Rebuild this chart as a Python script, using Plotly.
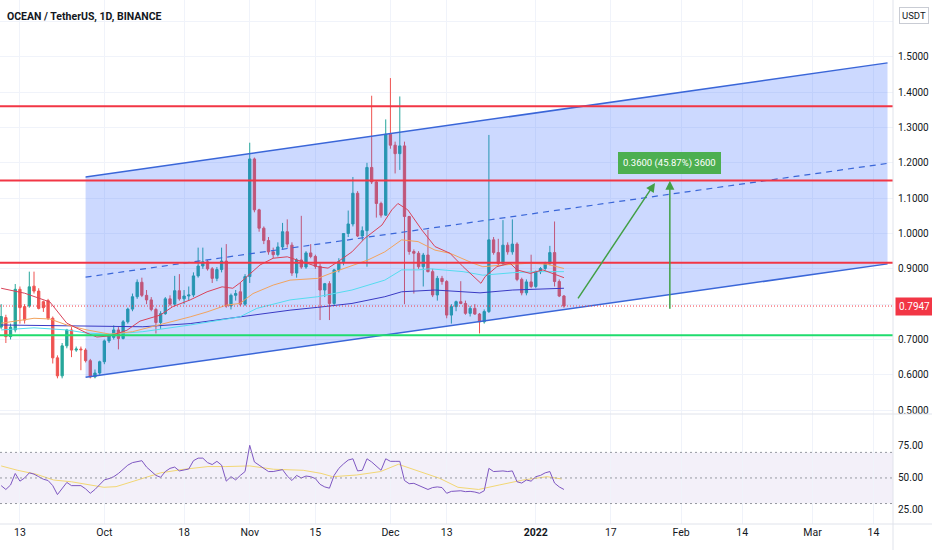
import pandas as pd
import plotly.graph_objects as go

FONT = "Roboto, Liberation Sans, sans-serif"

start = pd.Timestamp("2021-09-09")

# daily OHLC, OCEAN/USDT, 2021-09-09 .. 2022-01-07
opens = [0.735, 0.762, 0.708, 0.727, 0.842, 0.793, 0.795, 0.851, 0.837, 0.807,
         0.810, 0.760, 0.648, 0.597, 0.682, 0.727, 0.670, 0.673, 0.670, 0.640,
         0.594, 0.605, 0.637, 0.696, 0.706, 0.727, 0.703, 0.750, 0.786, 0.821,
         0.862, 0.825, 0.812, 0.785, 0.748, 0.773, 0.815, 0.800, 0.838, 0.815,
         0.823, 0.826, 0.880, 0.908, 0.920, 0.900, 0.873, 0.898, 0.922, 0.795,
         0.825, 0.835, 0.800, 0.878, 1.211, 1.067, 1.015, 0.980, 0.948, 0.940,
         0.962, 1.005, 0.967, 0.888, 0.925, 0.905, 0.945, 0.935, 0.907, 0.840,
         0.858, 0.802, 0.897, 0.920, 1.000, 1.027, 1.114, 0.993, 1.008, 1.187,
         1.146, 1.085, 1.052, 1.281, 1.250, 1.226, 1.248, 1.048, 0.949, 0.944,
         0.906, 0.939, 0.892, 0.826, 0.873, 0.864, 0.769, 0.793, 0.807, 0.802,
         0.774, 0.788, 0.772, 0.750, 0.779, 0.982, 0.946, 0.915, 0.967, 0.948,
         0.970, 0.870, 0.832, 0.863, 0.850, 0.892, 0.901, 0.915, 0.946, 0.864,
         0.823]
highs = [0.800, 0.770, 0.745, 0.857, 0.850, 0.800, 0.892, 0.892, 0.845, 0.810,
         0.815, 0.765, 0.655, 0.690, 0.730, 0.735, 0.680, 0.680, 0.675, 0.645,
         0.615, 0.640, 0.700, 0.715, 0.740, 0.735, 0.755, 0.790, 0.830, 0.870,
         0.875, 0.840, 0.820, 0.790, 0.780, 0.820, 0.825, 0.880, 0.885, 0.840,
         0.850, 0.890, 0.960, 0.960, 0.925, 0.905, 0.905, 0.960, 0.970, 0.830,
         0.840, 0.860, 0.885, 1.257, 1.215, 1.070, 1.020, 0.990, 0.960, 0.975,
         1.030, 1.040, 0.975, 0.930, 1.050, 0.950, 0.970, 0.940, 0.915, 0.860,
         0.865, 0.900, 0.930, 1.000, 1.065, 1.160, 1.120, 1.020, 1.200, 1.390,
         1.150, 1.090, 1.323, 1.440, 1.260, 1.388, 1.260, 1.050, 0.955, 0.950,
         0.945, 1.010, 0.900, 0.880, 0.880, 0.868, 0.800, 0.810, 0.865, 0.810,
         0.795, 0.800, 0.775, 0.785, 1.279, 0.990, 0.985, 1.038, 0.975, 1.040,
         0.975, 0.875, 0.870, 0.940, 0.895, 0.905, 0.920, 0.965, 1.034, 0.870,
         0.826]
lows = [0.730, 0.690, 0.700, 0.720, 0.745, 0.745, 0.790, 0.830, 0.785, 0.778,
        0.755, 0.632, 0.590, 0.590, 0.675, 0.650, 0.665, 0.613, 0.635, 0.590,
        0.590, 0.600, 0.630, 0.690, 0.700, 0.672, 0.700, 0.745, 0.780, 0.815,
        0.820, 0.800, 0.780, 0.717, 0.730, 0.770, 0.795, 0.795, 0.810, 0.800,
        0.810, 0.820, 0.875, 0.900, 0.895, 0.860, 0.865, 0.890, 0.790, 0.785,
        0.810, 0.795, 0.795, 0.860, 1.060, 1.005, 0.970, 0.940, 0.930, 0.935,
        0.955, 0.960, 0.880, 0.875, 0.900, 0.900, 0.930, 0.900, 0.755, 0.820,
        0.755, 0.795, 0.890, 0.910, 0.990, 1.020, 0.990, 0.980, 0.906, 1.140,
        1.045, 1.045, 1.050, 1.240, 1.170, 1.180, 0.800, 0.940, 0.830, 0.900,
        0.850, 0.890, 0.820, 0.810, 0.855, 0.760, 0.745, 0.780, 0.800, 0.770,
        0.765, 0.770, 0.717, 0.745, 0.775, 0.940, 0.910, 0.910, 0.940, 0.940,
        0.865, 0.825, 0.825, 0.845, 0.845, 0.885, 0.895, 0.910, 0.850, 0.820,
        0.790]
closes = [0.765, 0.708, 0.735, 0.842, 0.790, 0.755, 0.849, 0.837, 0.788, 0.790,
          0.760, 0.648, 0.597, 0.682, 0.727, 0.670, 0.673, 0.671, 0.640, 0.594,
          0.605, 0.637, 0.696, 0.710, 0.727, 0.703, 0.750, 0.786, 0.821, 0.862,
          0.825, 0.812, 0.785, 0.748, 0.773, 0.815, 0.800, 0.838, 0.815, 0.823,
          0.826, 0.880, 0.908, 0.920, 0.900, 0.873, 0.898, 0.922, 0.795, 0.825,
          0.830, 0.800, 0.878, 1.211, 1.067, 1.015, 0.980, 0.948, 0.940, 0.962,
          1.005, 0.970, 0.888, 0.925, 0.905, 0.945, 0.935, 0.907, 0.840, 0.858,
          0.802, 0.897, 0.920, 1.000, 1.027, 1.114, 0.993, 1.008, 1.187, 1.146,
          1.085, 1.052, 1.281, 1.250, 1.226, 1.248, 1.048, 0.949, 0.944, 0.906,
          0.939, 0.892, 0.826, 0.873, 0.864, 0.769, 0.793, 0.807, 0.802, 0.774,
          0.788, 0.772, 0.750, 0.779, 0.982, 0.946, 0.915, 0.967, 0.948, 0.970,
          0.870, 0.832, 0.863, 0.850, 0.892, 0.901, 0.915, 0.946, 0.864, 0.823,
          0.7947]

# moving averages (day offset from start, price)
ma_red_days = [0, 5, 10.4, 14, 18.3, 20.4, 23.2, 26.8, 29.6, 33.9, 36.6, 40.3, 43.9,
               47.1, 49.4, 50.9, 52.4, 55.2, 58, 61, 67.5, 69.7, 71.8, 74.8, 77.6,
               81.2, 83.3, 84.6, 86.7, 89.7, 92.5, 95.7, 98.5, 102.3, 103.2, 105.7,
               108.5, 110, 112.8, 115.5, 120]
ma_red = [0.845, 0.831, 0.806, 0.746, 0.718, 0.707, 0.710, 0.726, 0.752, 0.769,
          0.793, 0.812, 0.835, 0.849, 0.845, 0.860, 0.878, 0.911, 0.930, 0.934,
          0.906, 0.902, 0.920, 0.948, 0.987, 1.024, 1.067, 1.085, 1.067, 1.010,
          0.963, 0.944, 0.906, 0.859, 0.878, 0.906, 0.916, 0.897, 0.887, 0.897,
          0.875]
ma_orange_days = [0, 7, 10.4, 14, 18.3, 23.2, 28, 36.6, 40.3, 43.9, 48, 50.9, 53.7,
                  58, 61.6, 67.5, 71.2, 78.2, 81.8, 85.4, 88.9, 92.5, 95.7, 100.6,
                  102.7, 109.1, 112.8, 116.4, 120]
ma_orange = [0.746, 0.760, 0.758, 0.741, 0.727, 0.715, 0.722, 0.750, 0.764, 0.778,
             0.797, 0.802, 0.830, 0.854, 0.868, 0.873, 0.892, 0.925, 0.948, 0.982,
             0.977, 0.953, 0.944, 0.916, 0.906, 0.913, 0.916, 0.913, 0.901]
ma_cyan_days = [0, 7, 14, 18.3, 23.2, 30.2, 40.3, 47.3, 50.9, 54.5, 61.6, 67.5,
                74.8, 81.8, 85.4, 88.9, 91.5, 98.5, 102.7, 109.1, 114.2, 120]
ma_cyan = [0.727, 0.733, 0.727, 0.718, 0.715, 0.722, 0.741, 0.755, 0.764, 0.788,
           0.812, 0.821, 0.840, 0.868, 0.897, 0.897, 0.900, 0.892, 0.882, 0.889,
           0.892, 0.892]
ma_blue_days = [0, 14, 21, 30.2, 40.3, 50.9, 61.6, 67.5, 74.8, 81.8, 85.4, 92.5,
                102.1, 109.1, 120]
ma_blue = [0.741, 0.738, 0.736, 0.736, 0.745, 0.764, 0.783, 0.791, 0.802, 0.821,
           0.835, 0.840, 0.832, 0.840, 0.845]

# RSI (daily) and its moving average
rsi = [44, 41, 44.5, 53.5, 47.5, 50, 54, 53, 51, 49,
       48, 44, 37, 42, 46.5, 44, 44, 44, 41.5, 38,
       41, 45, 48.5, 49.5, 51, 53.5, 57, 60, 62, 63,
       63.5, 58.5, 55, 52, 50.5, 55, 57.5, 58.5, 55.5, 56,
       57, 63.5, 65.5, 65.5, 62, 60.5, 63, 60, 47.5, 51,
       48.5, 52, 55, 75.5, 62.5, 60, 57.5, 55, 55, 56,
       56.5, 51.5, 48, 52, 50, 51.5, 51, 49.5, 45, 43,
       42, 52, 57.5, 61, 64, 65, 55.5, 56, 65, 62.5,
       59, 56, 65, 63, 63, 63, 48, 45.5, 45.8, 44,
       42.5, 41, 42.5, 43, 42.5, 38, 39.5, 40, 40, 39.3,
       39.5, 39, 38, 40, 57.5, 55, 55.5, 55.5, 55, 55.5,
       47, 46, 48.4, 47.5, 51, 52, 54, 55, 46, 43,
       41]
rsi_ma_days = [0, 3.5, 7.4, 11.2, 15, 18.8, 21.9, 24.5, 28.9, 34, 39, 44.1, 47.9,
               53, 58.1, 64.4, 68.2, 70.7, 75.8, 80.9, 84.7, 88.5, 93.5, 97.4,
               101.8, 106.2, 111.3, 116.4, 119.5]
rsi_ma = [59.4, 56, 53, 48.4, 47, 44.5, 42.7, 43.2, 48.4, 54, 56.8, 58.9, 58.9,
          59.4, 56.8, 56, 53.6, 51, 52.3, 55, 60.7, 56, 49.7, 42.7, 41, 44.5,
          48.4, 51, 49.2]

# drawings
red_levels = [1.36, 1.15, 0.917]
green_levels = [0.712]
last_price = 0.7947
channel_dates = ["2021-09-27", "2022-03-17"]
channel_upper = [1.160, 1.483]
channel_lower = [0.593, 0.914]
arrow_from_dates = ["2022-01-09 19:00", "2022-01-29 14:00"]
arrow_from_prices = [0.812, 0.783]
arrow_to_dates = ["2022-01-26 10:00", "2022-01-29 14:00"]
arrow_to_prices = [1.143, 1.149]
measure_text = "0.3600 (45.87%) 3600"

tick_dates = ["2021-09-13", "2021-10-01", "2021-10-18", "2021-11-01", "2021-11-15",
              "2021-12-01", "2021-12-13", "2022-01-01", "2022-01-17", "2022-02-01",
              "2022-02-14", "2022-03-01", "2022-03-14"]
tick_text = ["13", "Oct", "18", "Nov", "15", "Dec", "13", "<b>2022</b>", "17", "Feb",
             "14", "Mar", "14"]
price_ticks = [0.5, 0.6, 0.7, 0.8, 0.9, 1.0, 1.1, 1.2, 1.3, 1.4, 1.5, 1.6]
hidden_price_ticks = [0.8, 1.6]  # covered by the last-price tag and the USDT box
rsi_ticks = [25, 50, 75]


def to_dates(days):
    return [start + pd.Timedelta(days=d) for d in days]


dates = pd.date_range(start, periods=len(closes), freq="D")
split = 0.2099

fig = go.Figure()

# channel
cd = [pd.Timestamp(d) for d in channel_dates]
fig.add_trace(go.Scatter(
    x=[cd[0], cd[1], cd[1], cd[0], cd[0]],
    y=[channel_upper[0], channel_upper[1], channel_lower[1], channel_lower[0], channel_upper[0]],
    fill="toself", fillcolor="rgba(41,98,255,0.24)", line=dict(width=0),
    mode="lines", hoverinfo="skip"))
for ys in (channel_upper, channel_lower):
    fig.add_trace(go.Scatter(x=cd, y=ys, mode="lines",
                             line=dict(color="#3a66d8", width=1.5), hoverinfo="skip"))
mid = [(u + l) / 2 for u, l in zip(channel_upper, channel_lower)]
fig.add_trace(go.Scatter(x=cd, y=mid, mode="lines",
                         line=dict(color="#3a66d8", width=1.2, dash="6px,5px"),
                         hoverinfo="skip"))

# moving averages
for days, vals, col in [(ma_blue_days, ma_blue, "#3a3ac4"),
                        (ma_cyan_days, ma_cyan, "#55dcef"),
                        (ma_orange_days, ma_orange, "#f2a35e"),
                        (ma_red_days, ma_red, "#d9435a")]:
    fig.add_trace(go.Scatter(x=to_dates(days), y=vals, mode="lines",
                             line=dict(color=col, width=1), hoverinfo="skip"))

fig.add_trace(go.Candlestick(
    x=dates, open=opens, high=highs, low=lows, close=closes,
    increasing=dict(line=dict(color="#26a69a", width=1), fillcolor="#26a69a"),
    decreasing=dict(line=dict(color="#ef5350", width=1), fillcolor="#ef5350"),
    whiskerwidth=0, hoverinfo="skip"))

# RSI pane
fig.add_trace(go.Scatter(x=to_dates(rsi_ma_days), y=rsi_ma, mode="lines", yaxis="y2",
                         line=dict(color="#f2d774", width=1), hoverinfo="skip"))
fig.add_trace(go.Scatter(x=dates, y=rsi, mode="lines", yaxis="y2",
                         line=dict(color="#7e57c2", width=1), hoverinfo="skip"))

shapes = []
shapes.append(dict(type="rect", xref="paper", yref="y2", x0=0, x1=1, y0=30, y1=70,
                   fillcolor="rgba(126,87,194,0.09)", line=dict(width=0), layer="below"))
for lv in (70, 50, 30):
    shapes.append(dict(type="line", xref="paper", yref="y2", x0=0, x1=1, y0=lv, y1=lv,
                       line=dict(color="#9598a1", width=1, dash="2px,3px")))
for lv in red_levels:
    shapes.append(dict(type="line", xref="paper", yref="y", x0=0, x1=1, y0=lv, y1=lv,
                       line=dict(color="#f23645", width=2)))
for lv in green_levels:
    shapes.append(dict(type="line", xref="paper", yref="y", x0=0, x1=1, y0=lv, y1=lv,
                       line=dict(color="#1fdc6e", width=2)))
shapes.append(dict(type="line", xref="paper", yref="y", x0=0, x1=1, y0=last_price,
                   y1=last_price, line=dict(color="#f23645", width=1, dash="1px,2px")))
# pane borders
for yy in (split, 0):
    shapes.append(dict(type="line", xref="paper", yref="paper", x0=0, x1=1.05, y0=yy, y1=yy,
                       line=dict(color="#e0e3eb", width=1)))
shapes.append(dict(type="line", xref="paper", yref="paper", x0=1, x1=1, y0=-0.06, y1=1,
                   line=dict(color="#e0e3eb", width=1)))

annotations = []
for fx, fy, tx, ty in zip(arrow_from_dates, arrow_from_prices, arrow_to_dates, arrow_to_prices):
    annotations.append(dict(x=tx, y=ty, ax=fx, ay=fy, xref="x", yref="y", axref="x",
                            ayref="y", text="", showarrow=True, arrowhead=2,
                            arrowsize=1.2, arrowwidth=1.5, arrowcolor="#43a047"))
annotations.append(dict(x=arrow_to_dates[1], y=1.2, xref="x", yref="y", text=measure_text,
                        showarrow=False, bgcolor="#4caf50", bordercolor="#4caf50",
                        borderpad=4, xanchor="center", yanchor="middle",
                        font=dict(color="white", size=9.5, family=FONT)))
annotations.append(dict(x=1.002, y=last_price, xref="paper", yref="y", xanchor="left",
                        yanchor="middle", text=f"{last_price:.4f}", showarrow=False,
                        bgcolor="#f23645", borderpad=3,
                        font=dict(color="white", size=10, family=FONT)))
annotations.append(dict(x=1.0235, y=0.971, xref="paper", yref="paper", text="USDT",
                        xanchor="center", yanchor="middle",
                        showarrow=False, bgcolor="white", bordercolor="#c9ccd4",
                        borderwidth=1, borderpad=2,
                        font=dict(color="#131722", size=9.5, family=FONT)))
annotations.append(dict(x=0.006, y=0.969, xref="paper", yref="paper", xanchor="left",
                        yanchor="middle",
                        text="<b>OCEAN / TetherUS, 1D, BINANCE</b>", showarrow=False,
                        font=dict(color="#131722", size=10.5, family=FONT)))

fig.update_layout(
    width=932, height=550,
    margin=dict(l=0, r=39, t=0, b=26),
    paper_bgcolor="white", plot_bgcolor="white",
    showlegend=False,
    font=dict(family=FONT, size=10, color="#131722"),
    shapes=shapes, annotations=annotations,
    xaxis=dict(domain=[0, 1], anchor="y2", type="date",
               range=[start - pd.Timedelta(hours=6), pd.Timestamp("2022-03-18 04:00")],
               tickvals=tick_dates, ticktext=tick_text, showgrid=True,
               gridcolor="#f0f3fa", zeroline=False, showline=False, ticks="",
               rangeslider=dict(visible=False), tickfont=dict(size=10.5)),
    yaxis=dict(domain=[split, 1], anchor="x", side="right", range=[0.489, 1.661],
               tickvals=price_ticks,
               ticktext=["" if p in hidden_price_ticks else f"{p:.4f}" for p in price_ticks],
               showgrid=True, gridcolor="#f0f3fa", zeroline=False, ticks="",
               ticklabelstandoff=4),
    yaxis2=dict(domain=[0, split], anchor="x", side="right", range=[14, 100],
                tickvals=rsi_ticks, ticktext=[f"{v:.2f}" for v in rsi_ticks],
                showgrid=False, zeroline=False, ticks="", ticklabelstandoff=4),
)

fig.write_html("out.html", config={"displayModeBar": False},
               post_script="document.body.style.margin='0px';")
